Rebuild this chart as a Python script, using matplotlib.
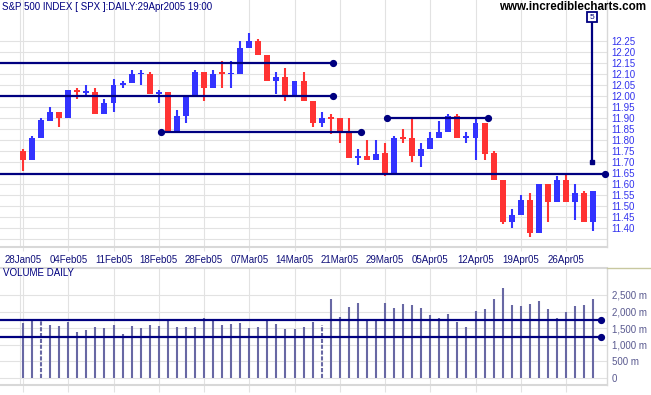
import matplotlib
matplotlib.use('Agg')
import matplotlib.pyplot as plt
from matplotlib.lines import Line2D
import numpy as np
import pandas as pd

plt.rcParams['font.family'] = ['Liberation Sans', 'DejaVu Sans']

# trading days shown (Presidents Day and Good Friday closed)
days = pd.bdate_range('2005-01-28', '2005-04-29')
days = days[~days.isin(pd.to_datetime(['2005-02-21', '2005-03-25']))]

opens = [11.75, 11.71, 11.81, 11.89, 11.93, 11.90, 12.03, 12.017, 12.02, 11.92,
         11.97, 12.05, 12.06, 12.100, 12.10, 12.01, 12.02, 11.84, 11.91, 12.00,
         12.11, 12.04, 12.104, 12.100, 12.10, 12.22, 12.25, 12.19, 12.07, 12.09,
         12.00, 12.07, 11.98, 11.88, 11.902, 11.90, 11.84, 11.72, 11.73, 11.71,
         11.74, 11.65, 11.815, 11.81, 11.73, 11.76, 11.81, 11.84, 11.91, 11.810,
         11.81, 11.88, 11.74, 11.62, 11.43, 11.46, 11.53, 11.38, 11.60, 11.52,
         11.62, 11.52, 11.56, 11.43]
highs = [11.76, 11.82, 11.90, 11.95, 11.93, 12.03, 12.04, 12.05, 12.04, 11.99,
         12.08, 12.07, 12.12, 12.12, 12.11, 12.03, 12.02, 11.94, 12.00, 12.12,
         12.11, 12.12, 12.16, 12.16, 12.25, 12.29, 12.26, 12.19, 12.11, 12.13,
         12.07, 12.11, 11.98, 11.93, 11.92, 11.90, 11.90, 11.76, 11.80, 11.80,
         11.79, 11.82, 11.85, 11.90, 11.79, 11.84, 11.89, 11.92, 11.92, 11.84,
         11.90, 11.88, 11.75, 11.62, 11.49, 11.55, 11.56, 11.60, 11.60, 11.64,
         11.65, 11.60, 11.57, 11.57]
lows = [11.66, 11.71, 11.81, 11.89, 11.86, 11.90, 11.99, 12.00, 11.92, 11.92,
        11.93, 12.04, 12.06, 12.05, 12.01, 11.97, 11.84, 11.84, 11.88, 12.00,
        11.98, 12.04, 12.04, 12.04, 12.10, 12.22, 12.19, 12.07, 12.01, 11.98,
        12.00, 11.98, 11.86, 11.86, 11.83, 11.79, 11.72, 11.69, 11.71, 11.71,
        11.64, 11.65, 11.79, 11.70, 11.68, 11.76, 11.81, 11.84, 11.81, 11.79,
        11.71, 11.71, 11.62, 11.42, 11.40, 11.46, 11.36, 11.38, 11.43, 11.52,
        11.52, 11.44, 11.43, 11.39]
closes = [11.71, 11.81, 11.89, 11.93, 11.90, 12.03, 12.02, 12.023, 11.92, 11.97,
          12.05, 12.06, 12.10, 12.103, 12.01, 12.02, 11.84, 11.91, 12.00, 12.11,
          12.04, 12.10, 12.101, 12.104, 12.22, 12.25, 12.19, 12.07, 12.09, 12.00,
          12.07, 11.98, 11.88, 11.90, 11.896, 11.84, 11.72, 11.73, 11.71, 11.74,
          11.65, 11.81, 11.806, 11.73, 11.76, 11.81, 11.84, 11.91, 11.81, 11.812,
          11.88, 11.74, 11.62, 11.43, 11.46, 11.53, 11.38, 11.60, 11.52, 11.62,
          11.52, 11.56, 11.43, 11.57]
# volume in millions
volume = [1644, 1724, 1724, 1593, 1563, 1684, 1381, 1442, 1533, 1503,
          1593, 1321, 1563, 1503, 1593, 1563, 1775, 1533, 1533, 1533,
          1805, 1745, 1593, 1624, 1654, 1503, 1533, 1745, 1624, 1473,
          1473, 1533, 1684, 1593, 2389, 1836, 2138, 2259, 1745, 1775,
          2259, 2108, 2229, 2199, 2108, 1896, 1805, 1926, 1684, 1533,
          2017, 2078, 2380, 2713, 2199, 2168, 2229, 2320, 2078, 1805,
          1987, 2168, 2199, 2389]
dotted_days = ['2005-02-01', '2005-03-17']

tick_days = ['2005-01-28', '2005-02-04', '2005-02-11', '2005-02-18', '2005-02-28',
             '2005-03-07', '2005-03-14', '2005-03-21', '2005-03-29', '2005-04-05',
             '2005-04-12', '2005-04-19', '2005-04-26']
price_grid = [11.35, 11.40, 11.45, 11.50, 11.55, 11.60, 11.65, 11.70, 11.75, 11.80,
              11.85, 11.90, 11.95, 12.00, 12.05, 12.10, 12.15, 12.20, 12.25]
vol_ticks = [0, 500, 1000, 1500, 2000, 2500]
vol_labels = ['0', '500 m', '1,000 m', '1,500 m', '2,000 m', '2,500 m']

# drawn trend lines: (start x, end x, level, dot at start)
price_lines = [(-3.0, 34.25, 12.15, False), (-3.0, 34.25, 12.00, False),
               (15.25, 37.4, 11.84, True), (40.2, 51.35, 11.90, True),
               (-3.0, 64.3, 11.645, False)]
target_x, target_lo, target_hi = 62.85, 11.70, 12.338
vol_lines = [1740, 1240]
vol_line_end = 63.83

navy = '#000080'
grid_c = '#e2e2e2'
up_c, down_c = '#3333ff', '#ff3333'

x = np.arange(len(days))
o, h, l, c = map(np.array, (opens, highs, lows, closes))
cols = np.where(c >= o, up_c, down_c)
tick_idx = [int(np.where(days == pd.Timestamp(d))[0][0]) for d in tick_days]
tick_labels = [pd.Timestamp(d).strftime('%d%b%y') for d in tick_days]

fig = plt.figure(figsize=(6.51, 3.95), dpi=100)
W, H = 651, 395
ax = fig.add_axes([0, 1 - 247 / H, 607 / W, 247 / H])
ax2 = fig.add_axes([0, 1 - 385 / H, 607 / W, (385 - 268) / H])

xlim = (-23 / 9.05, (607 - 23) / 9.05)

# ---- price panel
ax.set_xlim(*xlim)
ax.set_ylim(12.25 - 205.7 / 220, 12.25 + 41.3 / 220)
ax.set_xticks(tick_idx)
ax.set_xticklabels(tick_labels, fontsize=7, color='#10107a')
ax.set_yticks(price_grid)
ax.set_yticklabels(['' if v < 11.39 else '%.2f' % v for v in price_grid],
                   fontsize=7, color='#3333ee')
ax.yaxis.tick_right()
ax.tick_params(axis='y', length=0, pad=3.4)
ax.tick_params(axis='x', length=3, color=grid_c, pad=2.5)
ax.grid(True, color=grid_c, lw=0.8)
ax.axvline(-0.35, color=grid_c, lw=0.8)
ax.set_axisbelow(True)
for s in ['top', 'left']:
    ax.spines[s].set_visible(False)
ax.spines['bottom'].set_color('#d8d8d8')
ax.spines['bottom'].set_linewidth(1.5)
ax.spines['right'].set_color('#d8d8d8')
ax.spines['right'].set_linewidth(1.0)

ax.vlines(x, l, h, colors=cols, lw=1.5, zorder=3)
body = np.maximum(np.abs(c - o), 0.008)
ax.bar(x, body, bottom=np.minimum(o, c), width=0.66, color=cols, lw=0, zorder=3)

for x0, x1, lvl, dot0 in price_lines:
    ax.plot([x0, x1], [lvl, lvl], color=navy, lw=1.6, zorder=5, clip_on=False)
    ax.plot([x1], [lvl], 'o', color=navy, ms=4.2, zorder=6, clip_on=False)
    if dot0:
        ax.plot([x0], [lvl], 'o', color=navy, ms=4.2, zorder=6)
ax.plot([target_x, target_x], [target_lo, target_hi], color=navy, lw=1.6, zorder=5)
ax.plot([target_x], [target_lo], 's', color=navy, ms=2.2, zorder=6)
ax.plot([target_x], [target_hi + 0.021], 's', ms=7, mfc='white', mec=navy, mew=1.3,
        zorder=7)
ax.text(target_x, target_hi + 0.021, '5', ha='center', va='center', fontsize=6,
        color=navy, zorder=8)

# ---- volume panel
ax2.set_xlim(*xlim)
ax2.set_ylim(-(7.33 / 33.07) * 1000, (377.67 - 268) / 33.07 * 1000)
ax2.set_xticks(tick_idx)
ax2.set_yticks(vol_ticks)
ax2.set_yticklabels(vol_labels, fontsize=7, color='#5a5a90')
ax2.yaxis.tick_right()
ax2.tick_params(axis='y', length=0, pad=3.4)
ax2.tick_params(axis='x', length=5, color=grid_c, labelbottom=False)
ax2.grid(True, color=grid_c, lw=0.8)
ax2.axvline(-0.35, color=grid_c, lw=0.8)
ax2.set_axisbelow(True)
ax2.spines['left'].set_visible(False)
for s in ['top', 'bottom']:
    ax2.spines[s].set_color('#d8d8d8')
    ax2.spines[s].set_linewidth(1.5)
ax2.spines['right'].set_color('#d8d8d8')
ax2.spines['right'].set_linewidth(1.0)

dot_mask = days.isin(pd.to_datetime(dotted_days))
vol = np.array(volume)
ax2.vlines(x[~dot_mask], 0, vol[~dot_mask], colors='#6868a4', lw=1.5, zorder=3)
ax2.vlines(x[dot_mask], 0, vol[dot_mask], colors='#6868a4', lw=1.5, zorder=3,
           linestyles=[(0, (2, 0.8))])
for lvl in vol_lines:
    ax2.plot([xlim[0] - 1, vol_line_end], [lvl, lvl], color=navy, lw=1.6, zorder=5,
             clip_on=False)
    ax2.plot([vol_line_end], [lvl], 'o', color=navy, ms=4.2, zorder=6)

fig.add_artist(Line2D([607 / W, 1], [1 - 267.5 / H] * 2, color='#c8c8a0', lw=1))

fig.text(2 / W, 1 - 7 / H, 'S&P 500 INDEX [ SPX ]:DAILY:29Apr2005 19:00',
         fontsize=7, color=navy, va='center', ha='left')
fig.text(646 / W, 1 - 7 / H, 'www.incrediblecharts.com', fontsize=8.4,
         fontweight='bold', color='black', va='center', ha='right')
fig.text(3 / W, 1 - 272.5 / H, 'VOLUME DAILY', fontsize=7, color=navy,
         va='center', ha='left')

fig.savefig('out.png', dpi=100)
